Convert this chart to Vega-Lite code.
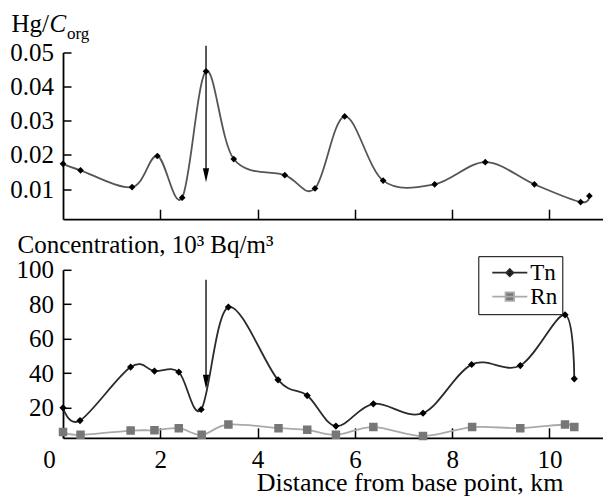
{
  "$schema": "https://vega.github.io/schema/vega-lite/v6.json",
  "padding": {"left": 9, "top": 11.5, "right": 0, "bottom": 0},
  "bounds": "flush",
  "spacing": 50.3,
  "config": {
    "view": {"stroke": null},
    "legend": {"strokeColor": "black"},
    "axis": {
      "labelColor": "black",
      "titleColor": "black",
      "titleFontWeight": "normal",
      "domainColor": "black",
      "tickColor": "black",
      "domainWidth": 1.8,
      "tickWidth": 1.5,
      "grid": false
    }
  },
  "datasets": {
    "hg": [
      {"km": 0.0, "v": 0.0174},
      {"km": 0.36, "v": 0.0155},
      {"km": 1.42, "v": 0.0106},
      {"km": 1.94, "v": 0.0197},
      {"km": 2.45, "v": 0.0075},
      {"km": 2.94, "v": 0.0445},
      {"km": 3.51, "v": 0.0188},
      {"km": 4.56, "v": 0.0141},
      {"km": 5.18, "v": 0.0102},
      {"km": 5.79, "v": 0.0313},
      {"km": 6.58, "v": 0.0125},
      {"km": 7.64, "v": 0.0114},
      {"km": 8.68, "v": 0.0179},
      {"km": 9.69, "v": 0.0114},
      {"km": 10.64, "v": 0.0062},
      {"km": 10.82, "v": 0.008}
    ],
    "conc": [
      {"series": "Tn", "km": 0.0, "c": 20.0},
      {"series": "Tn", "km": 0.35, "c": 12.6},
      {"series": "Tn", "km": 1.39, "c": 43.6},
      {"series": "Tn", "km": 1.88, "c": 41.3},
      {"series": "Tn", "km": 2.38, "c": 40.7},
      {"series": "Tn", "km": 2.84, "c": 19.0},
      {"series": "Tn", "km": 3.4, "c": 78.4},
      {"series": "Tn", "km": 4.42, "c": 36.2},
      {"series": "Tn", "km": 5.02, "c": 27.1},
      {"series": "Tn", "km": 5.61, "c": 9.4},
      {"series": "Tn", "km": 6.38, "c": 22.3},
      {"series": "Tn", "km": 7.4, "c": 16.9},
      {"series": "Tn", "km": 8.4, "c": 45.1},
      {"series": "Tn", "km": 9.4, "c": 44.5},
      {"series": "Tn", "km": 10.32, "c": 73.9},
      {"series": "Tn", "km": 10.51, "c": 36.8},
      {"series": "Rn", "km": 0.0, "c": 5.9},
      {"series": "Rn", "km": 0.36, "c": 4.3},
      {"series": "Rn", "km": 1.39, "c": 6.8},
      {"series": "Rn", "km": 1.88, "c": 7.0},
      {"series": "Rn", "km": 2.38, "c": 8.2},
      {"series": "Rn", "km": 2.85, "c": 4.3},
      {"series": "Rn", "km": 3.4, "c": 10.3},
      {"series": "Rn", "km": 4.43, "c": 8.2},
      {"series": "Rn", "km": 5.02, "c": 7.2},
      {"series": "Rn", "km": 5.61, "c": 4.3},
      {"series": "Rn", "km": 6.38, "c": 8.8},
      {"series": "Rn", "km": 7.4, "c": 3.6},
      {"series": "Rn", "km": 8.41, "c": 8.8},
      {"series": "Rn", "km": 9.4, "c": 8.2},
      {"series": "Rn", "km": 10.32, "c": 10.3},
      {"series": "Rn", "km": 10.51, "c": 8.8}
    ],
    "arrowTop": [{"km": 2.94, "y1": 0.052, "y2": 0.0141}],
    "arrowBottom": [{"km": 2.94, "y1": 94.2, "y2": 35.1}]
  },
  "vconcat": [
    {
      "width": 540,
      "height": 166.7,
      "resolve": {"axis": {"y": "independent"}},
      "layer": [
        {
          "data": {"name": "hg"},
          "mark": {"type": "line", "interpolate": "cardinal", "color": "#555555", "strokeWidth": 1.8},
          "encoding": {
            "x": {
              "field": "km", "type": "quantitative",
              "scale": {"domain": [0, 11.1], "nice": false, "zero": false},
              "axis": {"values": [2, 4, 6, 8, 10], "labels": false, "tickSize": -10, "title": null}
            },
            "y": {
              "field": "v", "type": "quantitative",
              "scale": {"domain": [0.0012, 0.05], "nice": false, "zero": false},
              "axis": {
                "orient": "left",
                "values": [0.01, 0.02, 0.03, 0.04, 0.05],
                "format": ".2f",
                "tickSize": -8,
                "labelPadding": 17.5,
                "labelFont": "Liberation Serif",
                "labelFontSize": 25,
                "title": "Hg/",
                "titleFont": "Liberation Serif",
                "titleFontSize": 25,
                "titleAngle": 0,
                "titleAlign": "left",
                "titleBaseline": "alphabetic",
                "titleX": -52,
                "titleY": -20.7
              }
            }
          }
        },
        {
          "data": {"name": "hg"},
          "mark": {"type": "point", "shape": "diamond", "filled": true, "color": "black", "size": 45, "opacity": 1},
          "encoding": {
            "x": {"field": "km", "type": "quantitative"},
            "y": {
              "field": "v", "type": "quantitative",
              "axis": {
                "orient": "left", "labels": false, "ticks": false, "domain": false,
                "title": "C", "titleFont": "Liberation Serif", "titleFontSize": 25,
                "titleFontStyle": "italic", "titleAngle": 0,
                "titleAlign": "left", "titleBaseline": "alphabetic",
                "titleX": -14, "titleY": -20.7
              }
            }
          }
        },
        {
          "data": {"name": "arrowTop"},
          "mark": {"type": "rule", "color": "black", "strokeWidth": 1.3},
          "encoding": {
            "x": {"field": "km", "type": "quantitative"},
            "y": {
              "field": "y1", "type": "quantitative",
              "axis": {
                "orient": "left", "labels": false, "ticks": false, "domain": false,
                "title": "org", "titleFont": "Liberation Serif", "titleFontSize": 17, "titleAngle": 0,
                "titleAlign": "left", "titleBaseline": "alphabetic",
                "titleX": 3.5, "titleY": -14
              }
            },
            "y2": {"field": "y2"}
          }
        },
        {
          "data": {"name": "arrowTop"},
          "mark": {"type": "point", "shape": "M-0.45,-1L0.45,-1L0,1Z", "filled": true, "color": "black", "size": 196, "opacity": 1},
          "encoding": {
            "x": {"field": "km", "type": "quantitative"},
            "y": {"field": "y2", "type": "quantitative", "axis": null}
          }
        }
      ]
    },
    {
      "width": 540,
      "height": 168,
      "layer": [
        {
          "data": {"name": "conc"},
          "mark": {"type": "line", "interpolate": "cardinal", "strokeWidth": 1.8},
          "encoding": {
            "x": {
              "field": "km", "type": "quantitative",
              "scale": {"domain": [0, 11.1], "nice": false, "zero": false},
              "axis": {
                "values": [0, 2, 4, 6, 8, 10],
                "tickSize": -10,
                "labelPadding": 20,
                "labelFlush": false,
                "labelOffset": {"condition": {"test": "datum.value === 0", "value": -14}, "value": 0},
                "labelFont": "Liberation Serif",
                "labelFontSize": 25,
                "title": "Distance from base point, km",
                "titleFont": "Liberation Serif",
                "titleFontSize": 26,
                "titleAlign": "right",
                "titleAnchor": "end",
                "titleBaseline": "alphabetic",
                "titleX": 500,
                "titleY": 52.7
              }
            },
            "y": {
              "field": "c", "type": "quantitative",
              "scale": {"domain": [2.6, 100], "nice": false, "zero": false},
              "axis": {
                "values": [20, 40, 60, 80, 100],
                "tickSize": -8,
                "labelPadding": 17.5,
                "labelFont": "Liberation Serif",
                "labelFontSize": 25,
                "title": "Concentration, 10³ Bq/m³",
                "titleFont": "Liberation Serif",
                "titleFontSize": 25,
                "titleAngle": 0,
                "titleAlign": "left",
                "titleBaseline": "alphabetic",
                "titleX": -46,
                "titleY": -17
              }
            },
            "color": {
              "field": "series", "type": "nominal",
              "scale": {"domain": ["Tn", "Rn"], "range": ["#2a2a2a", "#aaaaaa"]},
              "legend": {
                "orient": "none",
                "legendX": 415.3,
                "legendY": 203.7,
                "title": null,
                "padding": 5,
                "strokeColor": "black",
                "fillColor": "white",
                "labelFont": "Liberation Serif",
                "labelFontSize": 23,
                "labelColor": "black",
                "symbolSize": 100,
                "symbolStrokeWidth": 1.8,
                "symbolOffset": 15,
                "labelOffset": 9,
                "rowPadding": -3
              }
            }
          }
        },
        {
          "data": {"name": "conc"},
          "mark": {"type": "point", "filled": true, "opacity": 1, "size": 100, "strokeWidth": 0},
          "encoding": {
            "x": {"field": "km", "type": "quantitative"},
            "y": {"field": "c", "type": "quantitative"},
            "shape": {
              "field": "series", "type": "nominal",
              "scale": {"domain": ["Tn", "Rn"], "range": ["M-3.5,0L3.5,0M0,-0.72L0.72,0L0,0.72L-0.72,0Z", "M-3.5,0L3.5,0M-0.85,-0.85L0.85,-0.85L0.85,0.85L-0.85,0.85Z"]},
              "legend": null
            },
            "fill": {"field": "series", "type": "nominal", "scale": {"domain": ["Tn", "Rn"], "range": ["#000000", "#777777"]}, "legend": null}
          }
        },
        {
          "data": {"name": "arrowBottom"},
          "mark": {"type": "rule", "color": "black", "strokeWidth": 1.3},
          "encoding": {
            "x": {"field": "km", "type": "quantitative"},
            "y": {"field": "y1", "type": "quantitative"},
            "y2": {"field": "y2"}
          }
        },
        {
          "data": {"name": "arrowBottom"},
          "mark": {"type": "point", "shape": "M-0.45,-1L0.45,-1L0,1Z", "filled": true, "color": "black", "size": 196, "opacity": 1},
          "encoding": {
            "x": {"field": "km", "type": "quantitative"},
            "y": {"field": "y2", "type": "quantitative"}
          }
        }
      ]
    }
  ]
}
